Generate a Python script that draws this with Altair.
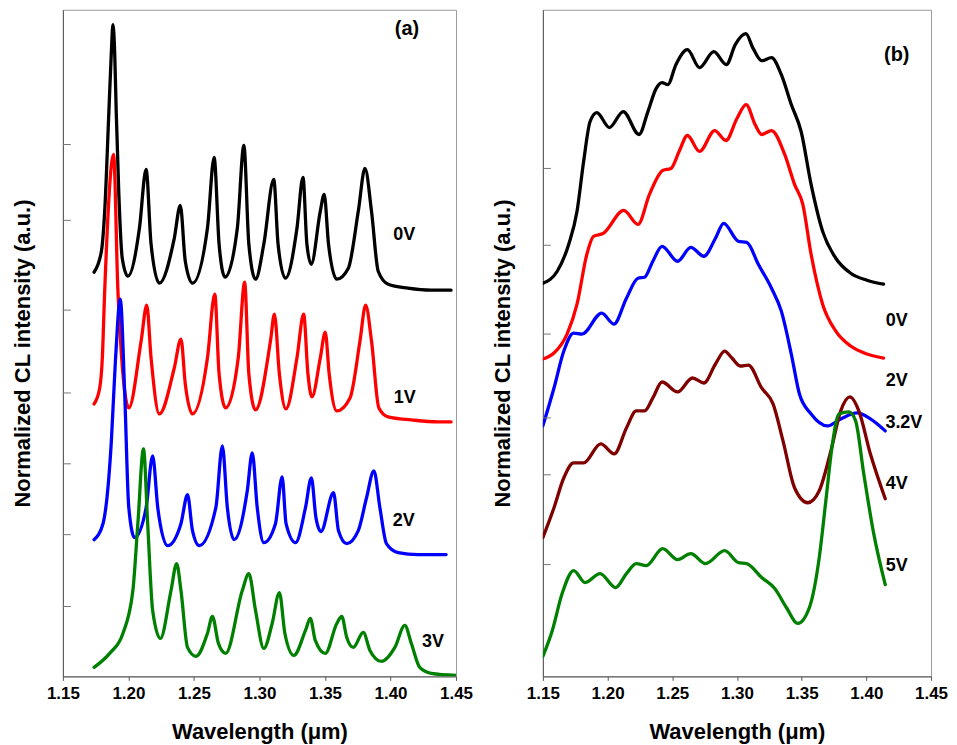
import altair as alt
import pandas as pd

# ---------------- Panel (a) ----------------
A0_WL = [1.1738, 1.1794, 1.1819, 1.1851, 1.1870, 1.1882, 1.1895, 1.1907, 1.1927, 1.1953, 1.1996,
         1.2084, 1.2135, 1.2173, 1.2236, 1.2350, 1.2396, 1.2434, 1.2489, 1.2603, 1.2654, 1.2692,
         1.2737, 1.2831, 1.2881, 1.2919, 1.2970, 1.3033, 1.3109, 1.3142, 1.3198, 1.3286, 1.3332,
         1.3362, 1.3395, 1.3464, 1.3494, 1.3527, 1.3590, 1.3678, 1.3754, 1.3805, 1.3855, 1.3906,
         1.3982, 1.4134, 1.4311, 1.4462]
A0_I = [405, 426, 466, 566, 626, 653, 626, 566, 483, 419, 401,
        449, 508, 433, 394, 439, 472, 416, 394, 449, 520, 433,
        400, 449, 532, 433, 398, 433, 498, 433, 399, 449, 500,
        433, 413, 466, 483, 433, 398, 409, 466, 509, 466, 406,
        393, 389, 387, 387]

A1_WL = [1.1738, 1.1781, 1.1801, 1.1819, 1.1887, 1.1920, 1.2003, 1.2097, 1.2140, 1.2173, 1.2236,
         1.2350, 1.2401, 1.2434, 1.2489, 1.2603, 1.2659, 1.2692, 1.2742, 1.2838, 1.2887, 1.2919,
         1.2970, 1.3084, 1.3114, 1.3152, 1.3202, 1.3286, 1.3337, 1.3370, 1.3400, 1.3464, 1.3502,
         1.3532, 1.3590, 1.3691, 1.3767, 1.3810, 1.3855, 1.3911, 1.3982, 1.4159, 1.4362, 1.4462]
A1_I = [273, 289, 319, 386, 523, 386, 269, 336, 372, 319, 263,
        309, 338, 293, 263, 319, 383, 303, 269, 319, 395, 303,
        267, 336, 363, 303, 268, 319, 363, 303, 280, 319, 345,
        303, 266, 279, 336, 372, 336, 269, 260, 257, 255, 255]

A2_WL = [1.1738, 1.1806, 1.1870, 1.1902, 1.1938, 1.1971, 1.2003, 1.2047, 1.2135, 1.2185, 1.2224,
         1.2299, 1.2401, 1.2451, 1.2489, 1.2540, 1.2667, 1.2717, 1.2755, 1.2806, 1.2907, 1.2945,
         1.2983, 1.3033, 1.3122, 1.3173, 1.3203, 1.3275, 1.3351, 1.3396, 1.3431, 1.3469, 1.3565,
         1.3603, 1.3666, 1.3754, 1.3817, 1.3873, 1.3919, 1.3969, 1.4058, 1.4210, 1.4424]
A2_I = [137, 153, 236, 319, 378, 286, 169, 139, 169, 221, 169,
        131, 153, 182, 146, 131, 169, 231, 169, 137, 186, 224,
        169, 134, 153, 200, 153, 134, 169, 199, 159, 145, 184,
        146, 133, 146, 179, 206, 169, 133, 124, 122, 122]

A3_WL = [1.1738, 1.1857, 1.1958, 1.2034, 1.2072, 1.2115, 1.2147, 1.2185, 1.2244, 1.2325, 1.2368,
         1.2401, 1.2451, 1.2515, 1.2603, 1.2641, 1.2687, 1.2742, 1.2869, 1.2919, 1.2970, 1.3033,
         1.3097, 1.3152, 1.3194, 1.3262, 1.3351, 1.3388, 1.3426, 1.3502, 1.3590, 1.3628, 1.3666,
         1.3716, 1.3792, 1.3843, 1.3931, 1.4033, 1.4109, 1.4159, 1.4223, 1.4311, 1.4500]
A3_I = [9, 23, 43, 86, 153, 228, 153, 66, 38, 86, 113,
        86, 29, 20, 43, 60, 33, 23, 86, 103, 66, 28,
        53, 84, 43, 21, 46, 58, 36, 23, 53, 60, 39,
        29, 44, 26, 15, 29, 51, 33, 9, 3, 1]

A_TICKS = [533, 457, 367, 284, 213, 142, 70]
A_LAB_T = ["0V", "1V", "2V", "3V"]
A_LAB_X = [1.4104, 1.4109, 1.4101, 1.4324]
A_LAB_Y = [442, 279, 156, 34]
A_TAG = ["(a)"]
A_TAG_X = [1.4126]
A_TAG_Y = [649]

# ---------------- Panel (b) ----------------
B0_WL = [1.1500, 1.1611, 1.1700, 1.1764, 1.1815, 1.1865, 1.1917, 1.2014, 1.2121, 1.2243, 1.2312,
         1.2375, 1.2421, 1.2465, 1.2528, 1.2617, 1.2711, 1.2821, 1.2918, 1.2987, 1.3068, 1.3126,
         1.3191, 1.3267, 1.3343, 1.3420, 1.3496, 1.3573, 1.3662, 1.3764, 1.3879, 1.4005, 1.4133]
B0_I = [394, 406, 433, 466, 516, 556, 565, 550, 566, 543, 566,
        589, 595, 593, 613, 628, 610, 626, 613, 633, 644, 629,
        617, 620, 603, 573, 546, 493, 446, 419, 404, 397, 393]

B2_WL = [1.1500, 1.1586, 1.1687, 1.1764, 1.1840, 1.1891, 1.1968, 1.2125, 1.2235, 1.2324, 1.2426,
         1.2490, 1.2553, 1.2617, 1.2711, 1.2828, 1.2915, 1.3000, 1.3071, 1.3140, 1.3191, 1.3267,
         1.3369, 1.3445, 1.3509, 1.3573, 1.3662, 1.3764, 1.3879, 1.4005, 1.4133]
B2_I = [318, 324, 343, 373, 423, 441, 444, 467, 453, 483, 507,
        509, 526, 542, 526, 547, 537, 559, 573, 553, 543, 547,
        523, 493, 473, 423, 373, 346, 331, 323, 319]

B32_WL = [1.1500, 1.1586, 1.1662, 1.1738, 1.1802, 1.1955, 1.2049, 1.2146, 1.2235, 1.2286, 1.2350,
          1.2421, 1.2541, 1.2643, 1.2744, 1.2834, 1.2897, 1.3012, 1.3076, 1.3165, 1.3267, 1.3343,
          1.3420, 1.3483, 1.3573, 1.3700, 1.3802, 1.3929, 1.4031, 1.4146]
B32_I = [251, 289, 326, 344, 343, 364, 353, 379, 399, 400, 416,
         431, 416, 430, 421, 439, 454, 436, 435, 413, 389, 366,
         323, 283, 263, 251, 258, 264, 258, 246]

B4_WL = [1.1500, 1.1586, 1.1662, 1.1738, 1.1815, 1.1947, 1.2052, 1.2146, 1.2222, 1.2286, 1.2350,
         1.2421, 1.2541, 1.2656, 1.2744, 1.2834, 1.2905, 1.2961, 1.3025, 1.3088, 1.3191, 1.3279,
         1.3356, 1.3445, 1.3547, 1.3636, 1.3726, 1.3802, 1.3873, 1.3942, 1.4031, 1.4146]
B4_I = [139, 169, 199, 214, 214, 233, 223, 249, 266, 266, 279,
        295, 285, 299, 294, 313, 326, 319, 311, 312, 289, 273,
        236, 189, 174, 186, 226, 266, 280, 266, 223, 178]

B5_WL = [1.1500, 1.1573, 1.1649, 1.1738, 1.1827, 1.1942, 1.2062, 1.2146, 1.2222, 1.2299, 1.2426,
         1.2541, 1.2643, 1.2757, 1.2905, 1.3012, 1.3076, 1.3191, 1.3292, 1.3382, 1.3470, 1.3560,
         1.3636, 1.3687, 1.3738, 1.3789, 1.3865, 1.3917, 1.3980, 1.4057, 1.4146]
B5_I = [20, 46, 83, 106, 94, 103, 89, 103, 113, 111, 128,
        117, 123, 113, 126, 114, 113, 99, 88, 69, 53, 69,
        119, 176, 233, 263, 265, 256, 203, 143, 92]

B_TICKS = [509, 432, 343, 259, 202, 112]
B_LAB_T = ["0V", "2V", "3.2V", "4V", "5V"]
B_LAB_X = [1.4235, 1.4235, 1.4290, 1.4235, 1.4235]
B_LAB_Y = [356, 296, 254, 193, 111]
B_TAG = ["(b)"]
B_TAG_X = [1.4235]
B_TAG_Y = [623]

X_TICKS = [1.15, 1.20, 1.25, 1.30, 1.35, 1.40, 1.45]

FONT = "Liberation Sans"


def panel(series, ticks, lab_t, lab_x, lab_y, tag_t, tag_x, tag_y, w):
    x = alt.X("wl:Q",
              scale=alt.Scale(domain=[1.15, 1.45], nice=False, zero=False),
              axis=alt.Axis(values=X_TICKS, format=".2f", title="Wavelength (μm)",
                            tickSize=4, labelPadding=5, titlePadding=20, labelFlush=False))
    y = alt.Y("v:Q",
              scale=alt.Scale(domain=[0, 668], nice=False, zero=False),
              axis=alt.Axis(labels=False, ticks=False, title="Normalized CL intensity (a.u.)",
                            titleAngle=-90, titleX=-40, titleY=344, titleAlign="center",
                            titleBaseline="middle", titleFontSize=22))
    layers = []
    for wl, vals, color in series:
        df = pd.DataFrame({"wl": wl, "v": vals})
        layers.append(
            alt.Chart(df).mark_line(color=color, strokeWidth=3.3, interpolate="monotone",
                                    clip=True, strokeJoin="round", strokeCap="round")
            .encode(x=x, y=y)
        )
    tdf = pd.DataFrame({"v": ticks})
    layers.append(
        alt.Chart(tdf).mark_rule(color="#777777", strokeWidth=1)
        .encode(y=y, x=alt.value(0), x2=alt.value(8))
    )
    ldf = pd.DataFrame({"wl": lab_x, "v": lab_y, "t": lab_t})
    layers.append(
        alt.Chart(ldf).mark_text(font=FONT, fontWeight="bold", fontSize=18, color="black",
                                 align="center", baseline="middle")
        .encode(x=x, y=y, text="t:N")
    )
    gdf = pd.DataFrame({"wl": tag_x, "v": tag_y, "t": tag_t})
    layers.append(
        alt.Chart(gdf).mark_text(font=FONT, fontWeight="bold", fontSize=20, color="black",
                                 align="center", baseline="middle")
        .encode(x=x, y=y, text="t:N")
    )
    return alt.layer(*layers).properties(width=w, height=668)


pa = panel([(A0_WL, A0_I, "#000000"), (A1_WL, A1_I, "#ff0000"),
            (A2_WL, A2_I, "#0000ff"), (A3_WL, A3_I, "#008000")],
           A_TICKS, A_LAB_T, A_LAB_X, A_LAB_Y, A_TAG, A_TAG_X, A_TAG_Y, 394)
pb = panel([(B0_WL, B0_I, "#000000"), (B2_WL, B2_I, "#ff0000"),
            (B32_WL, B32_I, "#0000ff"), (B4_WL, B4_I, "#800000"),
            (B5_WL, B5_I, "#008000")],
           B_TICKS, B_LAB_T, B_LAB_X, B_LAB_Y, B_TAG, B_TAG_X, B_TAG_Y, 389)

chart = (
    alt.hconcat(pa, pb, spacing=87, bounds="flush")
    .properties(padding={"left": 3, "top": 0, "right": 0, "bottom": 0})
    .configure_view(stroke="#999999", strokeWidth=1)
    .configure_axis(labelFont=FONT, labelFontWeight="bold", labelFontSize=17, labelColor="black",
                    titleFont=FONT, titleFontWeight="bold", titleFontSize=22, titleColor="black",
                    domainColor="#555555", tickColor="#555555", grid=False)
)

chart.save("out.html", embed_options={"renderer": "svg", "actions": False})
